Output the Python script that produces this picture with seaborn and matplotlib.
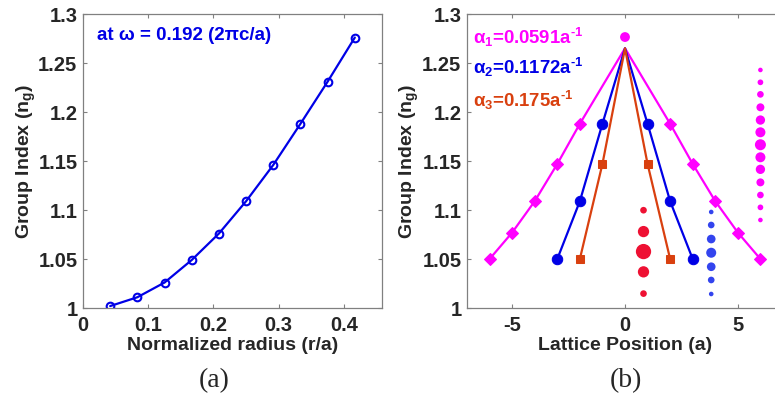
import numpy as np
import pandas as pd
import matplotlib
matplotlib.use('Agg')
import matplotlib.pyplot as plt
import seaborn as sns

# Panel (a): group index vs normalized radius
radius = [1/24, 2/24, 3/24, 4/24, 5/24, 6/24, 7/24, 8/24, 9/24, 10/24]
group_index = [1.002, 1.011, 1.026, 1.049, 1.076, 1.109, 1.146, 1.188, 1.231, 1.276]

# Panel (b): tapering profiles along the lattice
pos_1 = [-6, -5, -4, -3, -2, 0, 2, 3, 4, 5, 6]
ng_1 = [1.050, 1.077, 1.109, 1.147, 1.188, 1.265, 1.188, 1.147, 1.109, 1.077, 1.050]
pos_2 = [-3, -2, -1, 0, 1, 2, 3]
ng_2 = [1.050, 1.109, 1.188, 1.265, 1.188, 1.109, 1.050]
pos_3 = [-2, -1, 0, 1, 2]
ng_3 = [1.050, 1.147, 1.265, 1.147, 1.050]
peak_pos = [0]
peak_ng = [1.2765]

# hole sketches (position, vertical placement, relative hole size)
holes_3_x = [0.82] * 5
holes_3_y = [1.0998, 1.0780, 1.0576, 1.0369, 1.0147]
holes_3_s = [23, 66, 121, 66, 23]
holes_2_x = [3.82] * 7
holes_2_y = [1.0980, 1.0847, 1.0704, 1.0564, 1.0421, 1.0286, 1.0143]
holes_2_s = [11, 23, 39, 52, 39, 23, 11]
holes_1_x = [6.0] * 13
holes_1_y = [1.2429, 1.2303, 1.2180, 1.2048, 1.1918, 1.1793, 1.1666,
             1.1538, 1.1415, 1.1282, 1.1153, 1.1027, 1.0898]
holes_1_s = [11, 17, 23, 33, 45, 52, 63, 52, 45, 33, 23, 17, 11]

labels_b = [r'$\alpha_1$=0.0591a$^{\text{-}1}$', r'$\alpha_2$=0.1172a$^{\text{-}1}$',
            r'$\alpha_3$=0.175a$^{\text{-}1}$']

MAGENTA = '#ff00ff'
BLUE = '#0000e6'
ORANGE = '#d9400f'
RED_DOT = '#ee1133'
BLUE_DOT = '#3344ee'

sns.set_style('ticks')
plt.rcParams['font.family'] = ['Liberation Sans', 'DejaVu Sans']
plt.rcParams['font.weight'] = 'bold'
plt.rcParams['mathtext.fontset'] = 'custom'
plt.rcParams['mathtext.rm'] = 'Liberation Sans:bold'
plt.rcParams['mathtext.it'] = 'Liberation Sans:bold'
plt.rcParams['mathtext.bf'] = 'Liberation Sans:bold'

fig = plt.figure(figsize=(7.75, 3.98), dpi=100)
ax1 = fig.add_axes([0.1071, 0.2261, 0.3858, 0.7387])
ax2 = fig.add_axes([0.6026, 0.2261, 0.4077, 0.7387])

# ---- panel (a)
df_a = pd.DataFrame({'r': radius, 'ng': group_index})
sns.lineplot(data=df_a, x='r', y='ng', ax=ax1, color=BLUE, lw=1.6,
             marker='o', markersize=5.5, markerfacecolor='none',
             markeredgecolor=BLUE, markeredgewidth=1.5, sort=False)
ax1.set_xlim(0, 11/24)
ax1.set_xticks([0, 0.1, 0.2, 0.3, 0.4])
ax1.set_xticklabels(['0', '0.1', '0.2', '0.3', '0.4'])
ax1.text(0.021, 1.2776, u'at \u03c9 = 0.192 (2\u03c0c/a)', color=BLUE,
         fontsize=13.5, fontweight='bold', va='center', ha='left')
ax1.set_xlabel('Normalized radius (r/a)', fontsize=14, fontweight='bold', labelpad=1)

# ---- panel (b)
for px, py, c, m, ms in [(pos_1, ng_1, MAGENTA, 'D', 6.5),
                         (pos_2, ng_2, BLUE, 'o', 7.5),
                         (pos_3, ng_3, ORANGE, 's', 5.5)]:
    # no marker at the apex where the profiles meet
    keep = [i for i, v in enumerate(px) if v != 0]
    sns.lineplot(x=px, y=py, ax=ax2, color=c, lw=1.6, marker=m,
                 markersize=ms, markeredgecolor=c, markerfacecolor=c,
                 markevery=keep, sort=False, estimator=None)
sns.scatterplot(x=peak_pos, y=peak_ng, ax=ax2, color=MAGENTA, s=50,
                edgecolor='none', zorder=5)
sns.scatterplot(x=holes_3_x, y=holes_3_y, size=holes_3_s, sizes=(min(holes_3_s), max(holes_3_s)),
                ax=ax2, color=RED_DOT, edgecolor='none', legend=False)
sns.scatterplot(x=holes_2_x, y=holes_2_y, size=holes_2_s, sizes=(min(holes_2_s), max(holes_2_s)),
                ax=ax2, color=BLUE_DOT, edgecolor='none', legend=False)
sns.scatterplot(x=holes_1_x, y=holes_1_y, size=holes_1_s, sizes=(min(holes_1_s), max(holes_1_s)),
                ax=ax2, color=MAGENTA, edgecolor='none', legend=False)
ax2.set_xlim(-7, 7)
ax2.set_xticks([-5, 0, 5])
ax2.set_xticklabels(['-5', '0', '5'])
for lab, yy, c in zip(labels_b, [1.2765, 1.245, 1.212], [MAGENTA, BLUE, ORANGE]):
    ax2.text(-6.75, yy, lab, color=c, fontsize=13.4, va='center', ha='left')
ax2.set_xlabel('Lattice Position (a)', fontsize=14, fontweight='bold', labelpad=1)

for ax, lp in ((ax1, 0), (ax2, 1)):
    ax.set_ylim(1.0, 1.3)
    ax.set_yticks([1.0, 1.05, 1.1, 1.15, 1.2, 1.25, 1.3])
    ax.set_yticklabels(['1', '1.05', '1.1', '1.15', '1.2', '1.25', '1.3'])
    ax.set_ylabel('Group Index (n$_g$)', fontsize=14, fontweight='bold', labelpad=lp)
    ax.tick_params(direction='in', top=True, right=True, length=3,
                   color='#808080', labelsize=14.5)
    ax.tick_params(axis='x', pad=6)
    ax.tick_params(axis='y', pad=4)
    for sp in ax.spines.values():
        sp.set_visible(True)
        sp.set_color('#808080')
        sp.set_linewidth(0.9)
    for t in ax.get_xticklabels() + ax.get_yticklabels():
        t.set_fontweight('bold')

fig.text(214 / 775, 1 - 381 / 398, '(a)', family='Liberation Serif',
         fontweight='normal', fontsize=20, ha='center', va='center')
fig.text(626 / 775, 1 - 381 / 398, '(b)', family='Liberation Serif',
         fontweight='normal', fontsize=20, ha='center', va='center')

fig.savefig('out.png', dpi=100)
